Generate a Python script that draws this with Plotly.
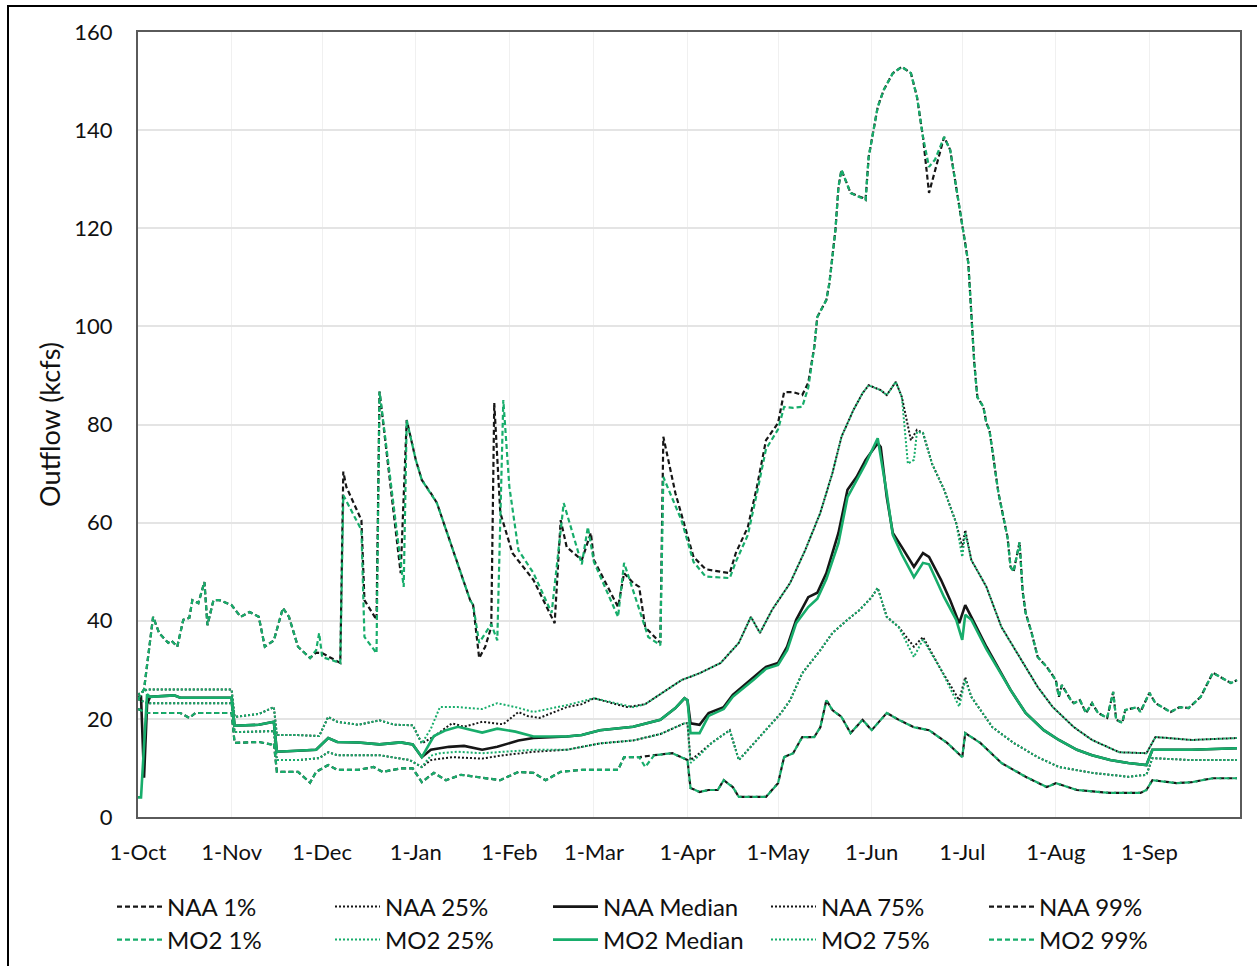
import pandas as pd
import plotly.graph_objects as go

BASE_DATE = "2021-10-01"
X_RANGE = ["2021-10-01", "2022-10-01"]
TICK_DATES = ["2021-10-01", "2021-11-01", "2021-12-01", "2022-01-01", "2022-02-01", "2022-03-01",
              "2022-04-01", "2022-05-01", "2022-06-01", "2022-07-01", "2022-08-01", "2022-09-01"]
TICK_LABELS = ["1-Oct", "1-Nov", "1-Dec", "1-Jan", "1-Feb", "1-Mar",
               "1-Apr", "1-May", "1-Jun", "1-Jul", "1-Aug", "1-Sep"]
Y_TICKS = [0, 20, 40, 60, 80, 100, 120, 140, 160]

# ---- values (day offset from 1-Oct, outflow kcfs) ----
NAA_1_DAY = [0, 3, 14, 17, 19, 31, 32, 40, 44, 45, 46, 53, 57, 59, 63, 66, 73, 78, 81, 87, 91, 94, 98, 102, 107,
             112, 120, 126, 131, 135, 140, 147, 159, 161, 166, 171, 177, 182, 183, 186, 189, 192, 194, 197, 199,
             208, 212, 214, 217, 220, 224, 226, 228, 230, 233, 236, 240, 243, 248, 252, 257, 262, 268, 273, 274,
             279, 286, 294, 301, 304, 311, 322, 332, 334, 336, 344, 349, 356, 364]
NAA_1_VAL = [22, 21.2, 21.2, 20.2, 21.2, 21.2, 15.1, 15.3, 14.8, 15.1, 9.2, 9.2, 7.0, 9.2, 10.6, 9.6, 9.6, 10.2,
             9.2, 9.9, 9.9, 7.1, 9.0, 7.5, 8.6, 8.2, 7.5, 9.2, 9.0, 7.5, 9.2, 9.6, 9.6, 12.2, 12.2, 12.6, 13.0,
             11.6, 5.9, 5.1, 5.5, 5.5, 7.5, 6.1, 4.1, 4.1, 6.9, 12.2, 13.0, 16.3, 16.3, 18.3, 23.8, 21.8, 20.4,
             17.1, 19.8, 17.7, 21.2, 19.8, 18.3, 17.7, 15.1, 12.2, 17.1, 15.1, 11.0, 8.2, 6.1, 6.9, 5.5, 4.9,
             4.9, 5.5, 7.5, 6.9, 7.1, 7.9, 7.9]

MO2_1_DAY = [0, 3, 14, 17, 19, 31, 32, 40, 44, 45, 46, 53, 57, 59, 63, 66, 73, 78, 81, 87, 91, 94, 98, 102, 107,
             112, 120, 126, 131, 135, 140, 147, 159, 161, 166, 168, 171, 177, 182, 183, 186, 189, 192, 194, 197,
             199, 208, 212, 214, 217, 220, 224, 226, 228, 230, 233, 236, 240, 243, 248, 252, 257, 262, 268, 273,
             274, 279, 286, 294, 301, 304, 311, 322, 332, 334, 336, 344, 349, 356, 364]
MO2_1_VAL = [22, 21.2, 21.2, 20.2, 21.2, 21.2, 15.1, 15.3, 14.8, 15.1, 9.2, 9.2, 7.0, 9.2, 10.6, 9.6, 9.6, 10.2,
             9.2, 9.9, 9.9, 7.1, 9.0, 7.5, 8.6, 8.2, 7.5, 9.2, 9.0, 7.5, 9.2, 9.6, 9.6, 12.2, 12.2, 10.2, 12.6,
             13.0, 11.6, 5.9, 5.1, 5.5, 5.5, 7.5, 6.1, 4.1, 4.1, 6.9, 12.2, 13.0, 16.3, 16.3, 18.3, 23.8, 21.8,
             20.4, 17.1, 19.8, 17.7, 21.2, 19.8, 18.3, 17.7, 15.1, 12.2, 17.1, 15.1, 11.0, 8.2, 6.1, 6.9, 5.5,
             4.9, 4.9, 5.5, 7.5, 6.9, 7.1, 7.9, 7.9]

NAA_25_DAY = [0, 3, 31, 32, 45, 46, 53, 60, 63, 66, 80, 90, 94, 97, 104, 114, 120, 131, 142, 153, 164, 173, 181,
              182, 183, 186, 190, 196, 199, 204, 208, 213, 216, 220, 226, 230, 235, 239, 243, 245, 248, 252, 257,
              260, 266, 272, 274, 276, 283, 290, 298, 305, 316, 328, 334, 336, 349, 364]
NAA_25_VAL = [24, 23.2, 23.2, 17.3, 17.5, 11.6, 11.6, 12.0, 13.2, 12.6, 12.6, 11.6, 10.2, 11.6, 12.2, 11.9, 12.5,
              13.3, 13.7, 15.0, 15.6, 16.9, 19.1, 19.1, 11.6, 13.0, 15.1, 17.7, 11.6, 15.1, 17.7, 21.2, 23.8,
              29.3, 34.0, 37.5, 40.2, 42.2, 44.8, 46.7, 40.8, 38.7, 34.7, 36.7, 30.0, 23.8, 28.5, 24.5, 18.3,
              15.1, 12.2, 10.2, 9.0, 8.2, 8.6, 12.0, 11.6, 11.6]

MO2_25_DAY = [0, 3, 31, 32, 45, 46, 53, 60, 63, 66, 80, 90, 94, 97, 100, 106, 114, 119, 131, 142, 153, 164, 173,
              181, 182, 183, 186, 190, 196, 199, 204, 208, 213, 216, 220, 226, 230, 235, 239, 243, 245, 248, 252,
              257, 260, 266, 272, 274, 276, 283, 290, 298, 305, 316, 328, 334, 336, 349, 364]
MO2_25_VAL = [24, 23.2, 23.2, 17.3, 17.5, 11.6, 11.6, 12.0, 13.2, 12.6, 12.6, 11.6, 10.2, 12.5, 13.0, 13.3, 13.0,
              13.2, 13.7, 13.7, 15.0, 15.6, 16.9, 19.1, 19.1, 11.0, 12.6, 15.1, 17.7, 11.6, 15.1, 17.7, 21.2,
              23.8, 29.3, 34.0, 37.5, 40.2, 42.2, 44.8, 46.7, 40.8, 38.7, 32.6, 36.2, 30.0, 22.5, 28.0, 24.5,
              18.3, 15.1, 12.2, 10.2, 9.0, 8.2, 8.6, 12.0, 11.6, 11.6]

NAA_MED_DAY = [0, 1, 2, 3, 4, 12, 14, 31, 32, 40, 45, 46, 53, 59, 63, 66, 73, 80, 87, 91, 94, 97, 103, 108, 114,
               119, 126, 131, 142, 147, 153, 164, 173, 178, 181, 182, 183, 186, 189, 194, 197, 200, 204, 208,
               212, 215, 218, 222, 225, 228, 232, 235, 238, 241, 245, 246, 248, 250, 253, 257, 260, 262, 266,
               269, 272, 274, 276, 281, 289, 294, 300, 305, 311, 316, 322, 328, 334, 336, 349, 364]
NAA_MED_VAL = [24.5, 24.5, 8.0, 23.0, 24.5, 24.8, 24.3, 24.3, 18.6, 18.8, 19.4, 13.3, 13.5, 13.7, 16.1, 15.3,
               15.2, 14.8, 15.2, 14.8, 12.2, 13.7, 14.3, 14.5, 13.7, 14.3, 15.6, 16.1, 16.4, 16.7, 17.7, 18.4,
               19.8, 22.2, 24.2, 23.8, 19.1, 18.8, 21.2, 22.4, 24.9, 26.5, 28.5, 30.6, 31.4, 34.7, 40.2, 44.8,
               45.7, 49.7, 57.9, 66.7, 69.3, 72.8, 76.2, 75.4, 65.2, 57.9, 55.0, 51.0, 53.8, 53.0, 48.3, 44.2,
               39.5, 43.2, 40.8, 34.7, 25.9, 21.2, 17.7, 15.7, 13.7, 12.6, 11.6, 11.0, 10.6, 13.7, 13.7, 14.0]

MO2_MED_DAY = [0, 1, 3, 4, 12, 14, 31, 32, 40, 45, 46, 53, 59, 63, 66, 73, 80, 87, 91, 94, 98, 102, 106, 114, 119,
               125, 131, 142, 147, 153, 164, 173, 178, 181, 182, 183, 186, 189, 194, 197, 200, 204, 208, 212,
               215, 218, 222, 225, 228, 232, 235, 238, 241, 245, 248, 250, 253, 257, 260, 262, 267, 271, 273,
               274, 276, 281, 289, 294, 300, 305, 311, 316, 322, 328, 334, 336, 349, 364]
MO2_MED_VAL = [4.0, 4.0, 25.0, 24.5, 24.8, 24.3, 24.3, 18.6, 18.8, 19.4, 13.3, 13.5, 13.7, 16.1, 15.3, 15.2, 14.8,
               15.2, 14.8, 12.2, 16.5, 17.7, 18.4, 17.2, 18.0, 17.4, 16.4, 16.4, 16.7, 17.7, 18.4, 19.8, 22.2,
               24.2, 23.8, 17.1, 17.1, 20.6, 22.0, 24.5, 26.0, 28.0, 30.2, 31.0, 34.0, 39.5, 42.8, 44.5, 48.5,
               55.8, 65.2, 68.5, 72.0, 77.2, 66.0, 57.5, 53.5, 48.9, 51.8, 51.5, 44.8, 40.2, 36.1, 41.2, 40.2,
               34.2, 25.9, 21.2, 17.7, 15.7, 13.7, 12.6, 11.6, 11.0, 10.6, 13.7, 13.7, 14.0]

NAA_75_DAY = [0, 3, 31, 32, 40, 45, 46, 53, 60, 63, 66, 73, 80, 85, 91, 94, 98, 104, 108, 114, 121, 126, 129, 133,
              142, 147, 151, 162, 168, 173, 180, 186, 193, 199, 203, 206, 210, 216, 221, 226, 230, 233, 237, 240,
              242, 246, 248, 251, 253, 256, 258, 260, 263, 267, 271, 273, 274, 276, 281, 286, 292, 298, 303, 310,
              316, 325, 334, 337, 349, 364]
NAA_75_VAL = [25.0, 26.0, 26.0, 20.4, 21.0, 22.4, 16.7, 16.7, 16.5, 20.4, 19.4, 18.8, 19.7, 18.8, 18.7, 15.0, 16.4,
              19.1, 18.4, 19.4, 18.9, 21.4, 20.6, 20.2, 22.4, 23.0, 24.2, 22.4, 23.0, 25.0, 27.9, 29.3, 31.4,
              35.5, 40.8, 37.5, 42.2, 47.7, 54.4, 62.0, 70.1, 77.5, 83.0, 86.4, 88.0, 87.0, 86.0, 88.7, 85.6,
              76.8, 78.9, 78.3, 72.0, 66.7, 59.9, 55.0, 58.5, 52.4, 46.9, 38.7, 32.6, 26.5, 22.4, 18.3, 15.7,
              13.2, 13.0, 16.3, 15.7, 16.1]

MO2_75_DAY = [0, 3, 31, 32, 40, 45, 46, 53, 60, 63, 66, 73, 80, 85, 91, 94, 97, 100, 106, 114, 119, 125, 131, 142,
              151, 164, 168, 173, 180, 186, 193, 199, 203, 206, 210, 216, 221, 226, 230, 233, 237, 240, 242, 246,
              248, 251, 253, 255, 257, 258, 260, 263, 267, 271, 273, 274, 276, 281, 286, 292, 298, 303, 310, 316,
              325, 334, 337, 349, 364]
MO2_75_VAL = [25.0, 26.0, 26.0, 20.4, 21.0, 22.4, 16.7, 16.7, 16.5, 20.4, 19.4, 18.8, 19.7, 18.8, 18.7, 15.0, 18.0,
              22.4, 22.4, 22.0, 23.2, 22.4, 21.4, 22.8, 24.2, 22.4, 23.0, 25.0, 27.9, 29.3, 31.4, 35.5, 40.8,
              37.5, 42.2, 47.7, 54.4, 62.0, 70.1, 77.5, 83.0, 86.4, 88.0, 87.0, 86.0, 88.7, 85.6, 72.0, 72.8,
              78.5, 78.3, 72.0, 66.7, 59.9, 53.0, 58.0, 52.4, 46.9, 38.7, 32.6, 26.5, 22.4, 18.3, 15.7, 13.2,
              13.0, 16.3, 15.7, 16.1]

NAA_99_DAY = [0, 2, 5, 7, 10, 11, 13, 15, 17, 18, 20, 22, 23, 25, 27, 31, 34, 37, 40, 42, 45, 48, 50, 53, 57, 59,
              61, 66, 67, 68, 69, 74, 75, 79, 80, 87, 89, 92, 94, 97, 99, 104, 110, 111, 113, 115, 117, 118, 120,
              124, 131, 138, 140, 142, 147, 150, 151, 159, 161, 164, 166, 168, 173, 174, 178, 184, 188, 196, 198,
              202, 205, 208, 212, 214, 217, 220, 222, 224, 225, 228, 229, 231, 232, 233, 236, 240, 241, 242, 245,
              247, 250, 253, 256, 258, 260, 262, 264, 267, 269, 271, 273, 275, 276, 277, 278, 280, 281, 282, 285,
              288, 289, 290, 292, 293, 294, 296, 298, 301, 304, 305, 306, 309, 310, 312, 314, 316, 318, 321, 323,
              324, 326, 327, 331, 332, 335, 337, 342, 345, 348, 352, 356, 359, 362, 364]
NAA_99_VAL = [24, 26, 40.8, 37.5, 35.5, 36, 34.7, 40.2, 40.6, 44.2, 43.6, 47.9, 39.1, 44.2, 44.2, 43.2, 40.8,
              41.8, 40.8, 34.7, 36, 42.6, 40.8, 34.7, 32.4, 33.5, 33.4, 31.6, 31.4, 70.4, 67.3, 60.5, 44.2, 40.2,
              86.7, 49.7, 80.9, 72.8, 68.7, 66, 64, 55, 44.2, 43.2, 32.4, 34.7, 38.7, 84.4, 62, 53.8, 48.3, 39.5,
              60.5, 55, 52.4, 57.9, 52.4, 42.8, 49.7, 47.7, 46.9, 38.7, 35.5, 77.5, 66, 53, 50.5, 49.7, 53.8,
              59.1, 67.3, 76.8, 80.3, 86.6, 86.6, 86, 88.5, 95.8, 101.9, 105.4, 108.8, 119.6, 128.4, 131.9,
              127.2, 126.2, 125.8, 134.5, 144.7, 148.2, 151.6, 152.9, 151.6, 146.8, 138.6, 127.2, 131.9, 138.6,
              136, 128.4, 121, 113, 102.7, 92.5, 85.6, 83.6, 80.3, 78.9, 66, 57, 51, 50, 56, 46, 41.6, 37.5,
              32.6, 30.6, 27.9, 24.5, 26.9, 23.8, 23.2, 23.8, 21.2, 23.2, 21.2, 20.2, 25.5, 19.8, 19.2, 21.8,
              22.4, 21.4, 25.3, 23.2, 21.4, 22.4, 22.2, 24.5, 29.4, 28.3, 27.3, 27.9]

MO2_99_DAY = [0, 2, 5, 7, 10, 11, 13, 15, 17, 18, 20, 22, 23, 25, 27, 31, 34, 37, 40, 42, 45, 48, 50, 53, 57, 59,
              60, 61, 66, 67, 68, 74, 75, 79, 80, 88, 89, 92, 94, 97, 99, 104, 110, 111, 113, 117, 119, 121, 123,
              126, 131, 137, 141, 147, 149, 151, 159, 161, 169, 173, 174, 180, 184, 188, 196, 198, 202, 205, 208,
              212, 214, 217, 220, 222, 224, 225, 228, 229, 231, 232, 233, 236, 240, 241, 242, 245, 247, 250, 253,
              256, 258, 260, 262, 264, 267, 269, 271, 273, 275, 276, 277, 278, 280, 281, 282, 285, 288, 289, 290,
              292, 293, 294, 296, 298, 301, 304, 305, 306, 309, 310, 312, 314, 316, 318, 321, 323, 324, 326, 327,
              331, 332, 335, 337, 342, 345, 348, 352, 356, 359, 362, 364]
MO2_99_VAL = [24, 26, 40.8, 37.5, 35.5, 36, 34.7, 40.2, 40.6, 44.2, 43.6, 47.9, 39.1, 44.2, 44.2, 43.2, 40.8,
              41.8, 40.8, 34.7, 36, 42.6, 40.8, 34.7, 32.4, 34, 37.5, 32.6, 31.6, 31.4, 65.6, 58.5, 36.7, 33.4,
              86.7, 46.9, 80.9, 72.8, 68.7, 66, 64, 55, 44.2, 43.2, 35.5, 39.3, 36, 85, 67.3, 54.4, 49.7, 41.6,
              64, 51.5, 59.1, 52, 40.8, 51.8, 36.7, 35, 69.3, 60.5, 52, 49, 48.7, 52, 57.5, 66, 75, 79, 83.6,
              83.4, 83.6, 87.5, 95.8, 101.9, 105.4, 108.8, 119.6, 128.4, 131.9, 127.2, 126.2, 125.8, 134.5,
              144.7, 148.2, 151.6, 152.9, 151.6, 146.8, 138.6, 132.5, 134, 138.6, 136, 128.4, 121, 113, 102.7,
              92.5, 85.6, 83.6, 80.3, 78.9, 66, 57, 51, 50, 56, 46, 41.6, 37.5, 32.6, 30.6, 27.9, 24.5, 26.9,
              23.8, 23.2, 23.8, 21.2, 23.2, 21.2, 20.2, 25.5, 19.8, 19.2, 21.8, 22.4, 21.4, 25.3, 23.2, 21.4,
              22.4, 22.2, 24.5, 29.4, 28.3, 27.3, 27.9]

BLACK = "#161616"
GREEN = "#17ad6b"
FONT = "Lato"

STYLE = {
    "dash": dict(width=2.2, dash="5px,3px"),
    "dot": dict(width=2.0, dash="2px,2px"),
    "solid": dict(width=2.6, dash="solid"),
}

SERIES = [
    ("NAA 1%", NAA_1_DAY, NAA_1_VAL, BLACK, "dash", "legend"),
    ("NAA 25%", NAA_25_DAY, NAA_25_VAL, BLACK, "dot", "legend"),
    ("NAA Median", NAA_MED_DAY, NAA_MED_VAL, BLACK, "solid", "legend"),
    ("NAA 75%", NAA_75_DAY, NAA_75_VAL, BLACK, "dot", "legend"),
    ("NAA 99%", NAA_99_DAY, NAA_99_VAL, BLACK, "dash", "legend"),
    ("MO2 1%", MO2_1_DAY, MO2_1_VAL, GREEN, "dash", "legend2"),
    ("MO2 25%", MO2_25_DAY, MO2_25_VAL, GREEN, "dot", "legend2"),
    ("MO2 Median", MO2_MED_DAY, MO2_MED_VAL, GREEN, "solid", "legend2"),
    ("MO2 75%", MO2_75_DAY, MO2_75_VAL, GREEN, "dot", "legend2"),
    ("MO2 99%", MO2_99_DAY, MO2_99_VAL, GREEN, "dash", "legend2"),
]


def to_dates(days):
    return pd.Timestamp(BASE_DATE) + pd.to_timedelta(days, unit="D")


fig = go.Figure()
for name, days, vals, color, style, leg in SERIES:
    if len(days) != len(vals):
        raise ValueError(f"{name}: {len(days)} days vs {len(vals)} values")
    st = STYLE[style]
    fig.add_trace(go.Scatter(
        x=to_dates(days), y=vals, mode="lines", name=name, legend=leg,
        line=dict(color=color, width=st["width"], dash=st["dash"]),
    ))

W, H = 1257, 966
L, R, T, B = 138, 17, 32, 149
PW, PH = W - L - R, H - T - B


def px_x(p):
    return (p - L) / PW


def px_y(p):
    return (H - B - p) / PH


legend_common = dict(
    orientation="h", xanchor="left", yanchor="middle",
    entrywidth=158, itemwidth=45,
    font=dict(family=FONT, size=24, color="#111111"),
    bgcolor="rgba(0,0,0,0)", borderwidth=0, tracegroupgap=0,
)

fig.update_layout(
    width=W, height=H,
    margin=dict(l=L, r=R, t=T, b=B, autoexpand=False),
    paper_bgcolor="white", plot_bgcolor="white",
    font=dict(family=FONT, size=22, color="#111111"),
    showlegend=True,
    legend=dict(x=px_x(112), y=px_y(907), **legend_common),
    legend2=dict(x=px_x(112), y=px_y(940), **legend_common),
    xaxis=dict(
        type="date", range=X_RANGE, automargin=False,
        tickvals=TICK_DATES, ticktext=TICK_LABELS,
        showgrid=True, gridcolor="#f0f0f0", gridwidth=1,
        showline=True, mirror=True, linecolor="#5a5a5a", linewidth=2,
        ticks="", ticklabelstandoff=15,
        tickfont=dict(family=FONT, size=22, color="#111111"),
        zeroline=False,
    ),
    yaxis=dict(
        range=[0, 160], tickvals=Y_TICKS, automargin=False,
        showgrid=True, gridcolor="#e4e4e4", gridwidth=1.5,
        showline=True, mirror=True, linecolor="#5a5a5a", linewidth=2,
        ticks="", ticklabelstandoff=19,
        tickfont=dict(family=FONT, size=22, color="#111111"),
        title=dict(text="Outflow (kcfs)", standoff=6,
                   font=dict(family=FONT, size=27, color="#111111")),
        zeroline=False,
    ),
    shapes=[dict(type="rect", xref="paper", yref="paper",
                 x0=px_x(8), x1=px_x(W + 10), y0=px_y(H + 10), y1=px_y(6),
                 line=dict(color="black", width=2), fillcolor="rgba(0,0,0,0)", layer="below")],
)

fig.write_html("out.html", config={"displayModeBar": False},
               post_script="document.body.style.margin='0';document.body.style.overflow='hidden';")
